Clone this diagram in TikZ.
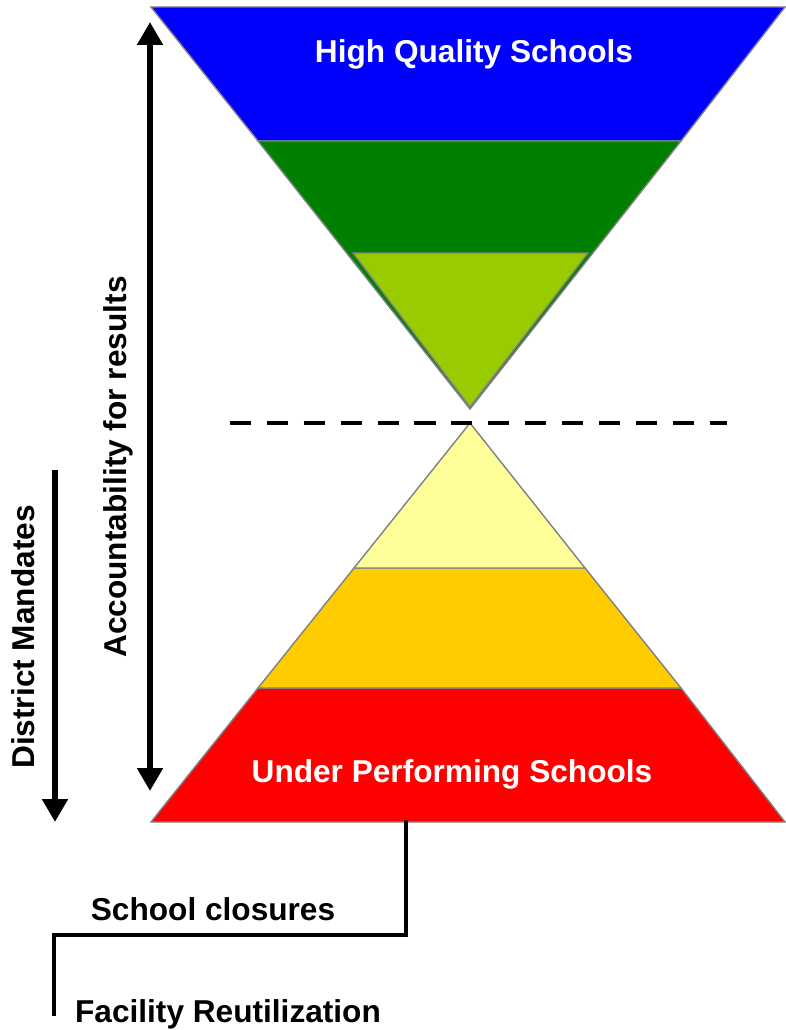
\documentclass[tikz,border=0pt]{standalone}
\usepackage{fontspec}
\setmainfont{Liberation Sans}
\definecolor{topblue}{RGB}{0, 0, 255}
\definecolor{midgreen}{RGB}{0, 128, 0}
\definecolor{limegreen}{RGB}{153, 204, 0}
\definecolor{paleyellow}{RGB}{255, 255, 153}
\definecolor{amber}{RGB}{255, 204, 0}
\definecolor{lowred}{RGB}{255, 0, 0}
\definecolor{edgegray}{RGB}{128, 128, 128}
\usetikzlibrary{arrows.meta, positioning, calc}

\begin{document}
\begin{tikzpicture}[x=0.02cm, y=-0.02cm,
    band/.style={draw=edgegray, line width=0.8pt},
    label/.style={font=\bfseries\fontsize{18}{21}\selectfont},
    bigarrow/.style={line width=3.5pt, -{Triangle[width=14pt, length=13pt]}},
    leader/.style={line width=1.8pt, line cap=rect}]
  \useasboundingbox (0, 0) rectangle (785, 1030);

  % Upper funnel
  \fill[band, fill=topblue]   (151, 7) -- (785, 7) -- (681, 141) -- (258, 141) -- cycle;
  \fill[band, fill=midgreen]  (258, 141) -- (681, 141) -- (470, 409) -- cycle;
  \fill[band, fill=limegreen] (353, 253) -- (588, 253) -- (470, 407) -- cycle;
  \node[label, text=white] (high) at (474, 54) {High Quality Schools};

  % Lower pyramid
  \fill[band, fill=lowred]     (151, 822) -- (785, 822) -- (681, 688) -- (258, 688) -- cycle;
  \fill[band, fill=amber]      (258, 688) -- (681, 688) -- (585, 568) -- (354, 568) -- cycle;
  \fill[band, fill=paleyellow] (354, 568) -- (585, 568) -- (470, 423) -- cycle;
  \node[label, text=white] (low) at (452, 774) {Under Performing Schools};

  % Divider
  \coordinate (dashL) at (230, 423);
  \coordinate (dashR) at (727, 423);
  \draw[line width=2.3pt, dash pattern=on 12pt off 9pt] (dashL) -- (dashR);

  % Accountability arrow
  \coordinate (accTop) at (150, 22);
  \coordinate (accBot) at (150, 791);
  \draw[bigarrow, {Triangle[width=14pt, length=13pt]}-{Triangle[width=14pt, length=13pt]}] (accTop) -- (accBot);
  \node[label, rotate=90] (acc) at (118, 467) {Accountability for results};

  % District arrow
  \coordinate (distTop) at (55, 470);
  \coordinate (distBot) at (55, 822);
  \draw[bigarrow] (distTop) -- (distBot);
  \node[label, rotate=90] (dist) at (23, 637) {District Mandates};

  % Outcomes
  \coordinate (baseTap) at (406, 822);
  \coordinate (stepEnd) at (54, 1014);
  \draw[leader] (baseTap) |- (54, 935) -- (stepEnd);
  \node[label] (close) at (213, 909) {School closures};
  \node[label] (reuse) at (228, 1014) {Facility Reutilization};
\end{tikzpicture}
\end{document}
